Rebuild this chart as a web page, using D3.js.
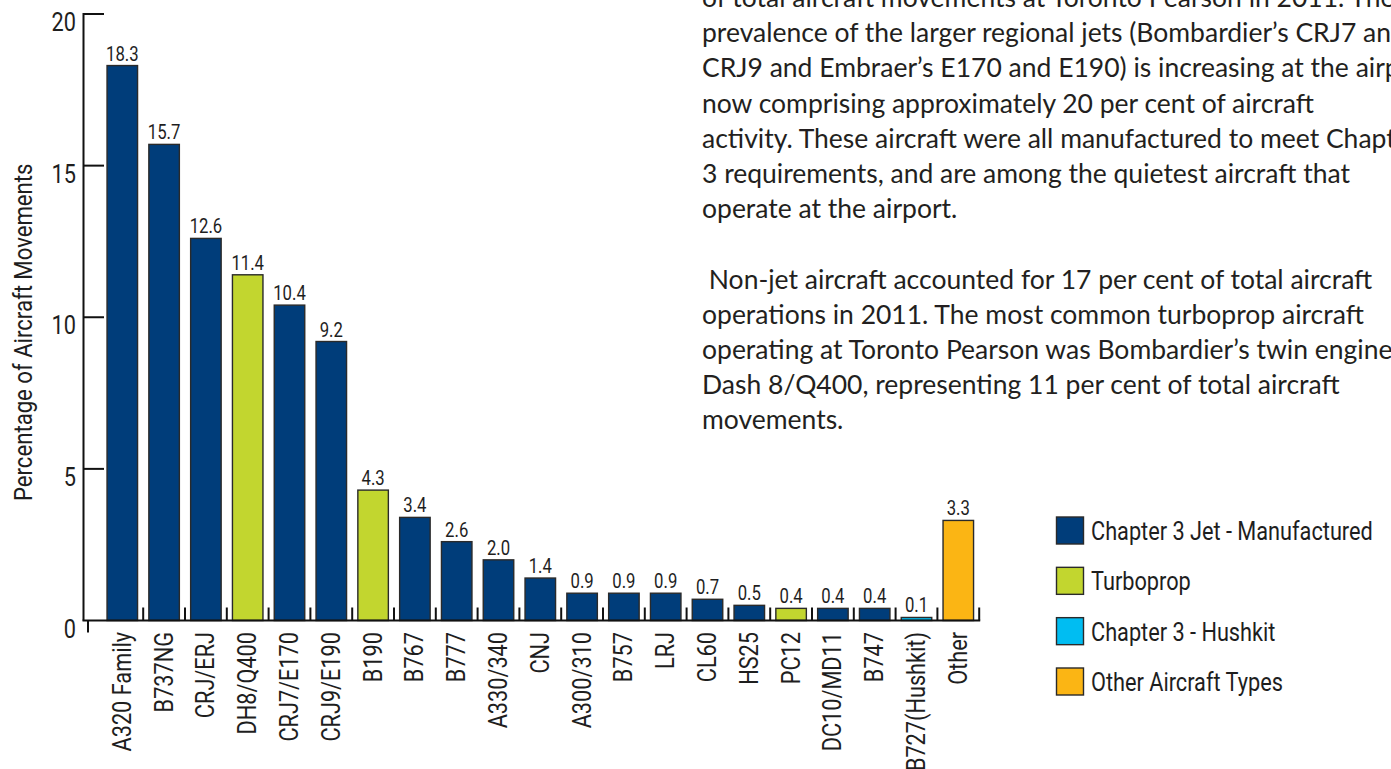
<!DOCTYPE html>
<html>
<head>
<meta charset="utf-8">
<script src="https://cdn.jsdelivr.net/npm/d3@7"></script>
<style>
  html, body { margin: 0; padding: 0; background: #ffffff; overflow: hidden; }
  svg { display: block; }
</style>
</head>
<body>
<svg id="chart" width="1391" height="769"></svg>
<script>
// ---- data ----
const categories = ["A320 Family", "B737NG", "CRJ/ERJ", "DH8/Q400", "CRJ7/E170", "CRJ9/E190",
  "B190", "B767", "B777", "A330/340", "CNJ", "A300/310", "B757", "LRJ", "CL60", "HS25",
  "PC12", "DC10/MD11", "B747", "B727(Hushkit)", "Other"];
const values = [18.3, 15.7, 12.6, 11.4, 10.4, 9.2, 4.3, 3.4, 2.6, 2.0, 1.4, 0.9, 0.9, 0.9,
  0.7, 0.5, 0.4, 0.4, 0.4, 0.1, 3.3];
const types = ["jet", "jet", "jet", "turbo", "jet", "jet", "turbo", "jet", "jet", "jet", "jet",
  "jet", "jet", "jet", "jet", "jet", "turbo", "jet", "jet", "hush", "other"];
const legendKeys = ["jet", "turbo", "hush", "other"];
const legendLabels = ["Chapter 3 Jet - Manufactured", "Turboprop", "Chapter 3 - Hushkit", "Other Aircraft Types"];
const yTicks = [0, 5, 10, 15, 20];
const yTitle = "Percentage of Aircraft Movements";
const paragraphLines = [
  "of total aircraft movements at Toronto Pearson in 2011. The",
  "prevalence of the larger regional jets (Bombardier\u2019s CRJ7 and",
  "CRJ9 and Embraer\u2019s E170 and E190) is increasing at the airport,",
  "now comprising approximately 20 per cent of aircraft",
  "activity. These aircraft were all manufactured to meet Chapter",
  "3 requirements, and are among the quietest aircraft that",
  "operate at the airport.",
  "",
  "\u00a0Non-jet aircraft accounted for 17 per cent of total aircraft",
  "operations in 2011. The most common turboprop aircraft",
  "operating at Toronto Pearson was Bombardier\u2019s twin engine",
  "Dash 8/Q400, representing 11 per cent of total aircraft",
  "movements."
];

// ---- styles ----
const colorScale = d3.scaleOrdinal()
  .domain(legendKeys)
  .range(["#003d7a", "#c2d62f", "#00bdf2", "#fbb514"]);
const narrowFamily = "Roboto, 'Liberation Sans', sans-serif";
const narrowWeight = 400;
const ink = "#1e1e1e";
const strokeCol = "#2a2a2a";

const svg = d3.select("#chart");

// condensed look: measure a probe and derive a horizontal squeeze factor
const probe = svg.append("text")
  .attr("font-family", narrowFamily).attr("font-weight", narrowWeight)
  .attr("font-size", 26).text(legendLabels[0]);
const sx = 282 / probe.node().getComputedTextLength();
probe.remove();

function narrowText(sel, size) {
  return sel.attr("font-family", narrowFamily)
    .attr("font-weight", narrowWeight)
    .attr("font-size", size)
    .attr("fill", ink);
}

// ---- scales ----
const x = d3.scaleBand().domain(categories).range([101.4, 979.2])
  .paddingInner(0.27).paddingOuter(0.135);
const y = d3.scaleLinear().domain([0, 20]).range([620.5, 14]);

// ---- bars ----
svg.append("g").selectAll("rect")
  .data(categories)
  .join("rect")
  .attr("x", d => x(d))
  .attr("y", (d, i) => y(values[i]))
  .attr("width", x.bandwidth())
  .attr("height", (d, i) => y(0) - y(values[i]))
  .attr("fill", (d, i) => colorScale(types[i]))
  .attr("stroke", strokeCol)
  .attr("stroke-width", 1.4);

// ---- value labels ----
narrowText(svg.append("g").selectAll("text")
  .data(categories)
  .join("text")
  .attr("transform", (d, i) => `translate(${x(d) + x.bandwidth() / 2}, ${y(values[i]) - 5}) scale(${sx},1)`)
  .attr("text-anchor", "middle"), 20)
  .text((d, i) => values[i].toFixed(1));

// ---- y axis ----
const yAxisG = svg.append("g");
yAxisG.append("line")
  .attr("x1", 83.5).attr("x2", 83.5)
  .attr("y1", y(20) - 1).attr("y2", y(0))
  .attr("stroke", "#111").attr("stroke-width", 2);
yAxisG.selectAll("line.tick")
  .data(yTicks.filter(t => t > 0))
  .join("line")
  .attr("class", "tick")
  .attr("x1", 83).attr("x2", 104)
  .attr("y1", d => y(d)).attr("y2", d => y(d))
  .attr("stroke", "#111").attr("stroke-width", 2);
narrowText(yAxisG.selectAll("text")
  .data(yTicks)
  .join("text")
  .attr("transform", d => `translate(76, ${y(d) + 8}) scale(${sx},1)`)
  .attr("dy", "0.35em")
  .attr("text-anchor", "end"), 26)
  .text(d => d);

// y title
narrowText(svg.append("text")
  .attr("transform", `translate(32, ${(y(0) + y(20)) / 2 + 15}) rotate(-90) scale(${sx},1)`)
  .attr("text-anchor", "middle"), 26.5)
  .text(yTitle);

// ---- x axis baseline and ticks ----
const gapHalf = (x.step() - x.bandwidth()) / 2;
svg.append("line")
  .attr("x1", 82.5).attr("x2", x.range()[1] + 1)
  .attr("y1", y(0)).attr("y2", y(0))
  .attr("stroke", "#111").attr("stroke-width", 2.2);
svg.append("line")
  .attr("x1", 88).attr("x2", 88)
  .attr("y1", y(0)).attr("y2", y(0) + 12)
  .attr("stroke", "#111").attr("stroke-width", 2);
svg.append("g").selectAll("line")
  .data(categories)
  .join("line")
  .attr("x1", d => x(d) + x.bandwidth() + gapHalf)
  .attr("x2", d => x(d) + x.bandwidth() + gapHalf)
  .attr("y1", y(0) - 13).attr("y2", y(0))
  .attr("stroke", "#111").attr("stroke-width", 2);

// category labels
narrowText(svg.append("g").selectAll("text")
  .data(categories)
  .join("text")
  .attr("transform", d => `translate(${x(d) + x.bandwidth() / 2 + 8.5}, 632) rotate(-90) scale(${sx},1)`)
  .attr("text-anchor", "end"), 26)
  .text(d => d);

// ---- legend ----
const legendY = d3.scalePoint().domain(legendKeys).range([531, 682]);
const lg = svg.append("g");
lg.selectAll("rect")
  .data(legendKeys)
  .join("rect")
  .attr("x", 1056.5)
  .attr("y", d => legendY(d) - 14)
  .attr("width", 27).attr("height", 27)
  .attr("fill", d => colorScale(d))
  .attr("stroke", strokeCol)
  .attr("stroke-width", 1.4);
narrowText(lg.selectAll("text")
  .data(legendKeys)
  .join("text")
  .attr("transform", d => `translate(1091, ${legendY(d)}) scale(${sx},1)`)
  .attr("dy", "0.35em"), 26)
  .text((d, i) => legendLabels[i]);

// ---- paragraph text ----
svg.append("g").selectAll("text")
  .data(paragraphLines)
  .join("text")
  .attr("x", 702)
  .attr("y", (d, i) => 7 + i * 35.2)
  .attr("font-family", "Lato, 'Open Sans', sans-serif")
  .attr("font-size", 26.5)
  .attr("fill", "#231f20")
  .attr("xml:space", "preserve")
  .text(d => d);
</script>
</body>
</html>
